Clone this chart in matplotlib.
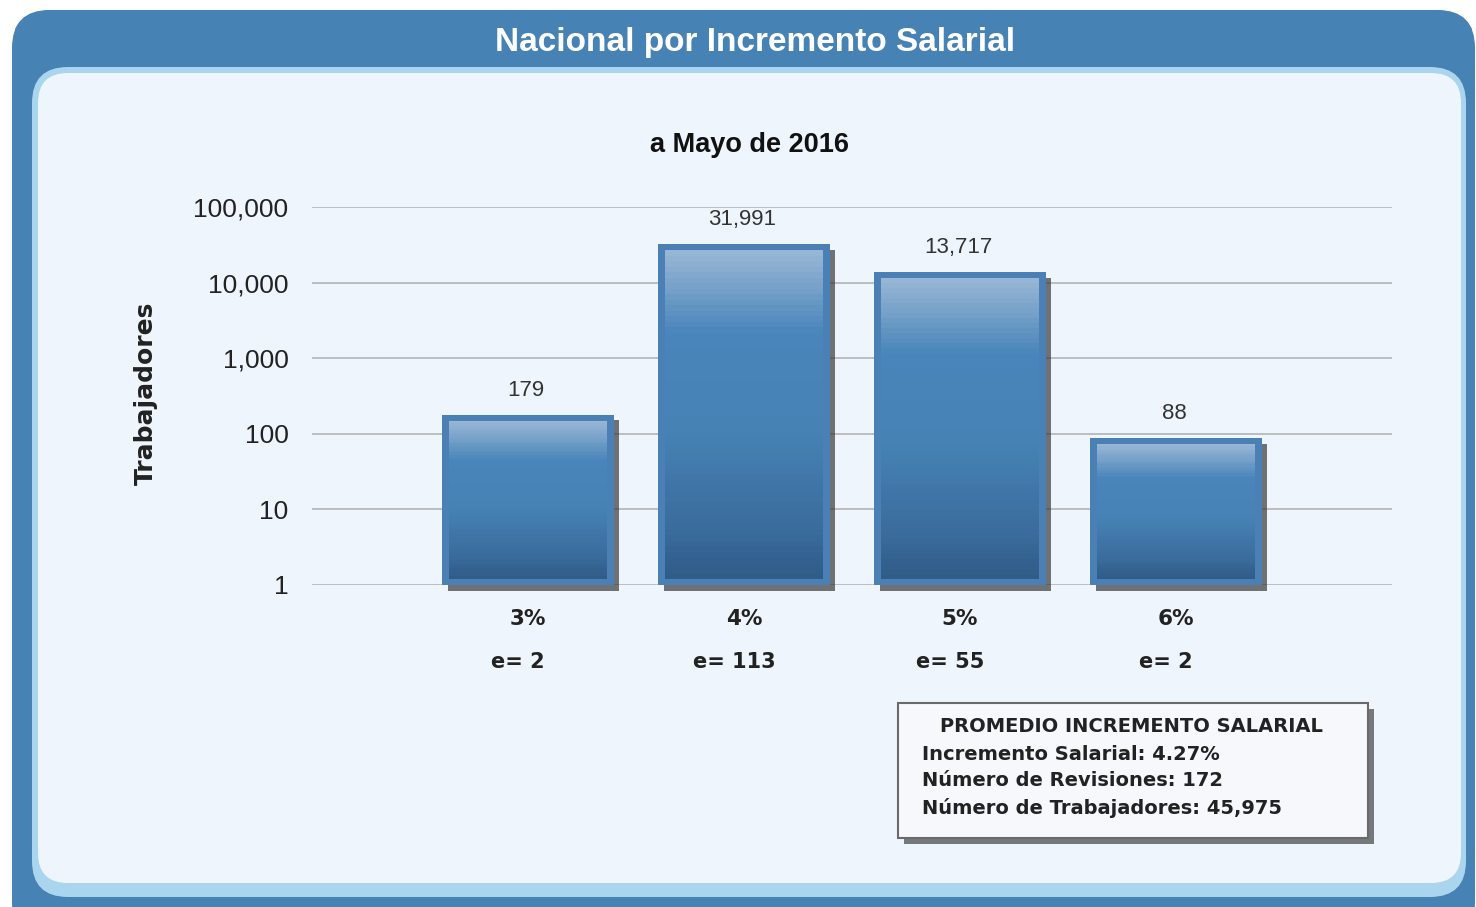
import numpy as np
import matplotlib.pyplot as plt
from matplotlib.patches import FancyBboxPatch, Rectangle
from matplotlib.colors import LinearSegmentedColormap
from matplotlib.ticker import FuncFormatter, FixedLocator
import matplotlib.patheffects as pe

# data
categories = ["3%", "4%", "5%", "6%"]
workers = [179, 31991, 13717, 88]
reviews = [2, 113, 55, 2]
value_labels = ["179", "31,991", "13,717", "88"]
y_ticks = [1, 10, 100, 1000, 10000, 100000]
summary_title = "PROMEDIO INCREMENTO SALARIAL"
summary_lines = ["Incremento Salarial: 4.27%",
                 "Número de Revisiones: 172",
                 "Número de Trabajadores: 45,975"]

W, H = 1476, 907
fig = plt.figure(figsize=(W / 100, H / 100), dpi=100)
fig.patch.set_facecolor("white")

# background frame drawn in pixel coords
bg = fig.add_axes([0, 0, 1, 1])
bg.set_xlim(0, W)
bg.set_ylim(H, 0)
bg.axis("off")

outer = FancyBboxPatch((12, 10), 1463, 930, boxstyle="round,pad=0,rounding_size=38",
                       fc="#4682b4", ec="none")
bg.add_patch(outer)
gloss = np.linspace(0, 1, 50).reshape(-1, 1)
gcm = LinearSegmentedColormap.from_list("g", ["#b4d0e8", "#4682b4"])
im = bg.imshow(gloss, cmap=gcm, extent=(12, 1475, 30, 10), aspect="auto")
im.set_clip_path(outer)
bg.add_patch(FancyBboxPatch((32, 67), 1434, 830, boxstyle="round,pad=0,rounding_size=36",
                            fc="#a9d5ee", ec="none"))
bg.add_patch(FancyBboxPatch((38, 73), 1423, 810, boxstyle="round,pad=0,rounding_size=30",
                            fc="#eef5fd", ec="none"))

bg.text(755, 42, "Nacional por Incremento Salarial", color="white", fontsize=24,
        fontweight="bold", family="Liberation Sans", ha="center", va="center")
bg.text(750, 145, "a Mayo de 2016", color="#111111", fontsize=19.5,
        fontweight="bold", family="Liberation Sans", ha="center", va="center")
bg.text(146, 393, "Trabajadores", color="#222222", fontsize=18, fontweight="bold",
        rotation=90, ha="center", va="center")

# summary box
box = Rectangle((898, 703), 470, 135, fc="#f6f8fb", ec="#6a6a6a", lw=1.5,
                path_effects=[pe.SimplePatchShadow(offset=(4, -4), shadow_rgbFace="#444444", alpha=0.7),
                              pe.Normal()])
bg.add_patch(box)
bg.text(1131, 727, summary_title, fontsize=14, fontweight="bold", color="#222222",
        ha="center", va="center")
for i, line in enumerate(summary_lines):
    bg.text(922, 754 + 27 * i, line, fontsize=14, fontweight="bold", color="#222222",
            ha="left", va="center")

# main chart
ax = fig.add_axes([312 / W, 322 / H, 1080 / W, 378 / H])
ax.set_facecolor("none")
ax.set_yscale("log")
ax.set_ylim(1, 100000)
ax.set_xlim(-1, 4)
x = np.arange(len(categories))
width = 0.795

base = ax.bar(x, np.array(workers) - 1, bottom=1, width=width, color="#4a80b6",
              clip_on=False, zorder=2)
for b in base:
    b.set_path_effects([pe.SimplePatchShadow(offset=(4, -4), shadow_rgbFace="#3a3a3a", alpha=0.7),
                        pe.Normal()])

# gradient fill inside each bar
cmap = LinearSegmentedColormap.from_list(
    "bar", [(0, "#2f5b87"), (0.15, "#3a6c9c"), (0.45, "#4682b4"), (0.75, "#4985ba"), (1, "#9ab7d5")])
n = 60
inset_x = 0.034
for xi, v in zip(x, workers):
    lo = 0.08
    hi = np.log10(v) - 0.08
    edges = np.linspace(lo, hi, n + 1)
    for k in range(n):
        ax.bar(xi, 10 ** edges[k + 1] - 10 ** edges[k], bottom=10 ** edges[k],
               width=width - 2 * inset_x, color=cmap((k + 0.5) / n), lw=0, zorder=3)

for xi, v, lab in zip(x, workers, value_labels):
    ax.annotate(lab, (xi, v), xytext=(-2, 14), textcoords="offset pixels",
                ha="center", va="bottom", fontsize=16, color="#333333",
                family="Liberation Sans")

for xi, e in zip(x, reviews):
    ax.annotate(f"e= {e}", (xi, 0), xycoords=("data", "axes fraction"),
                xytext=(-10, -77), textcoords="offset pixels", ha="center", va="center",
                fontsize=15, fontweight="bold", color="#222222")

ax.set_xticks(x)
ax.set_xticklabels(categories, fontsize=15.5, fontweight="bold", color="#222222")
ax.tick_params(axis="x", length=0, pad=17)

ax.yaxis.set_major_locator(FixedLocator(y_ticks))
ax.yaxis.set_minor_locator(FixedLocator([]))
ax.yaxis.set_major_formatter(FuncFormatter(lambda v, p: f"{v:,.0f}"))
for t in ax.get_yticklabels():
    t.set_family("Liberation Sans")
ax.tick_params(axis="y", length=0, pad=17, labelsize=19, labelcolor="#222222")
ax.grid(axis="y", color="#b4b4b4", lw=1.2, zorder=0)
ax.set_axisbelow(True)
for s in ax.spines.values():
    s.set_visible(False)

fig.savefig("out.png", dpi=100)
